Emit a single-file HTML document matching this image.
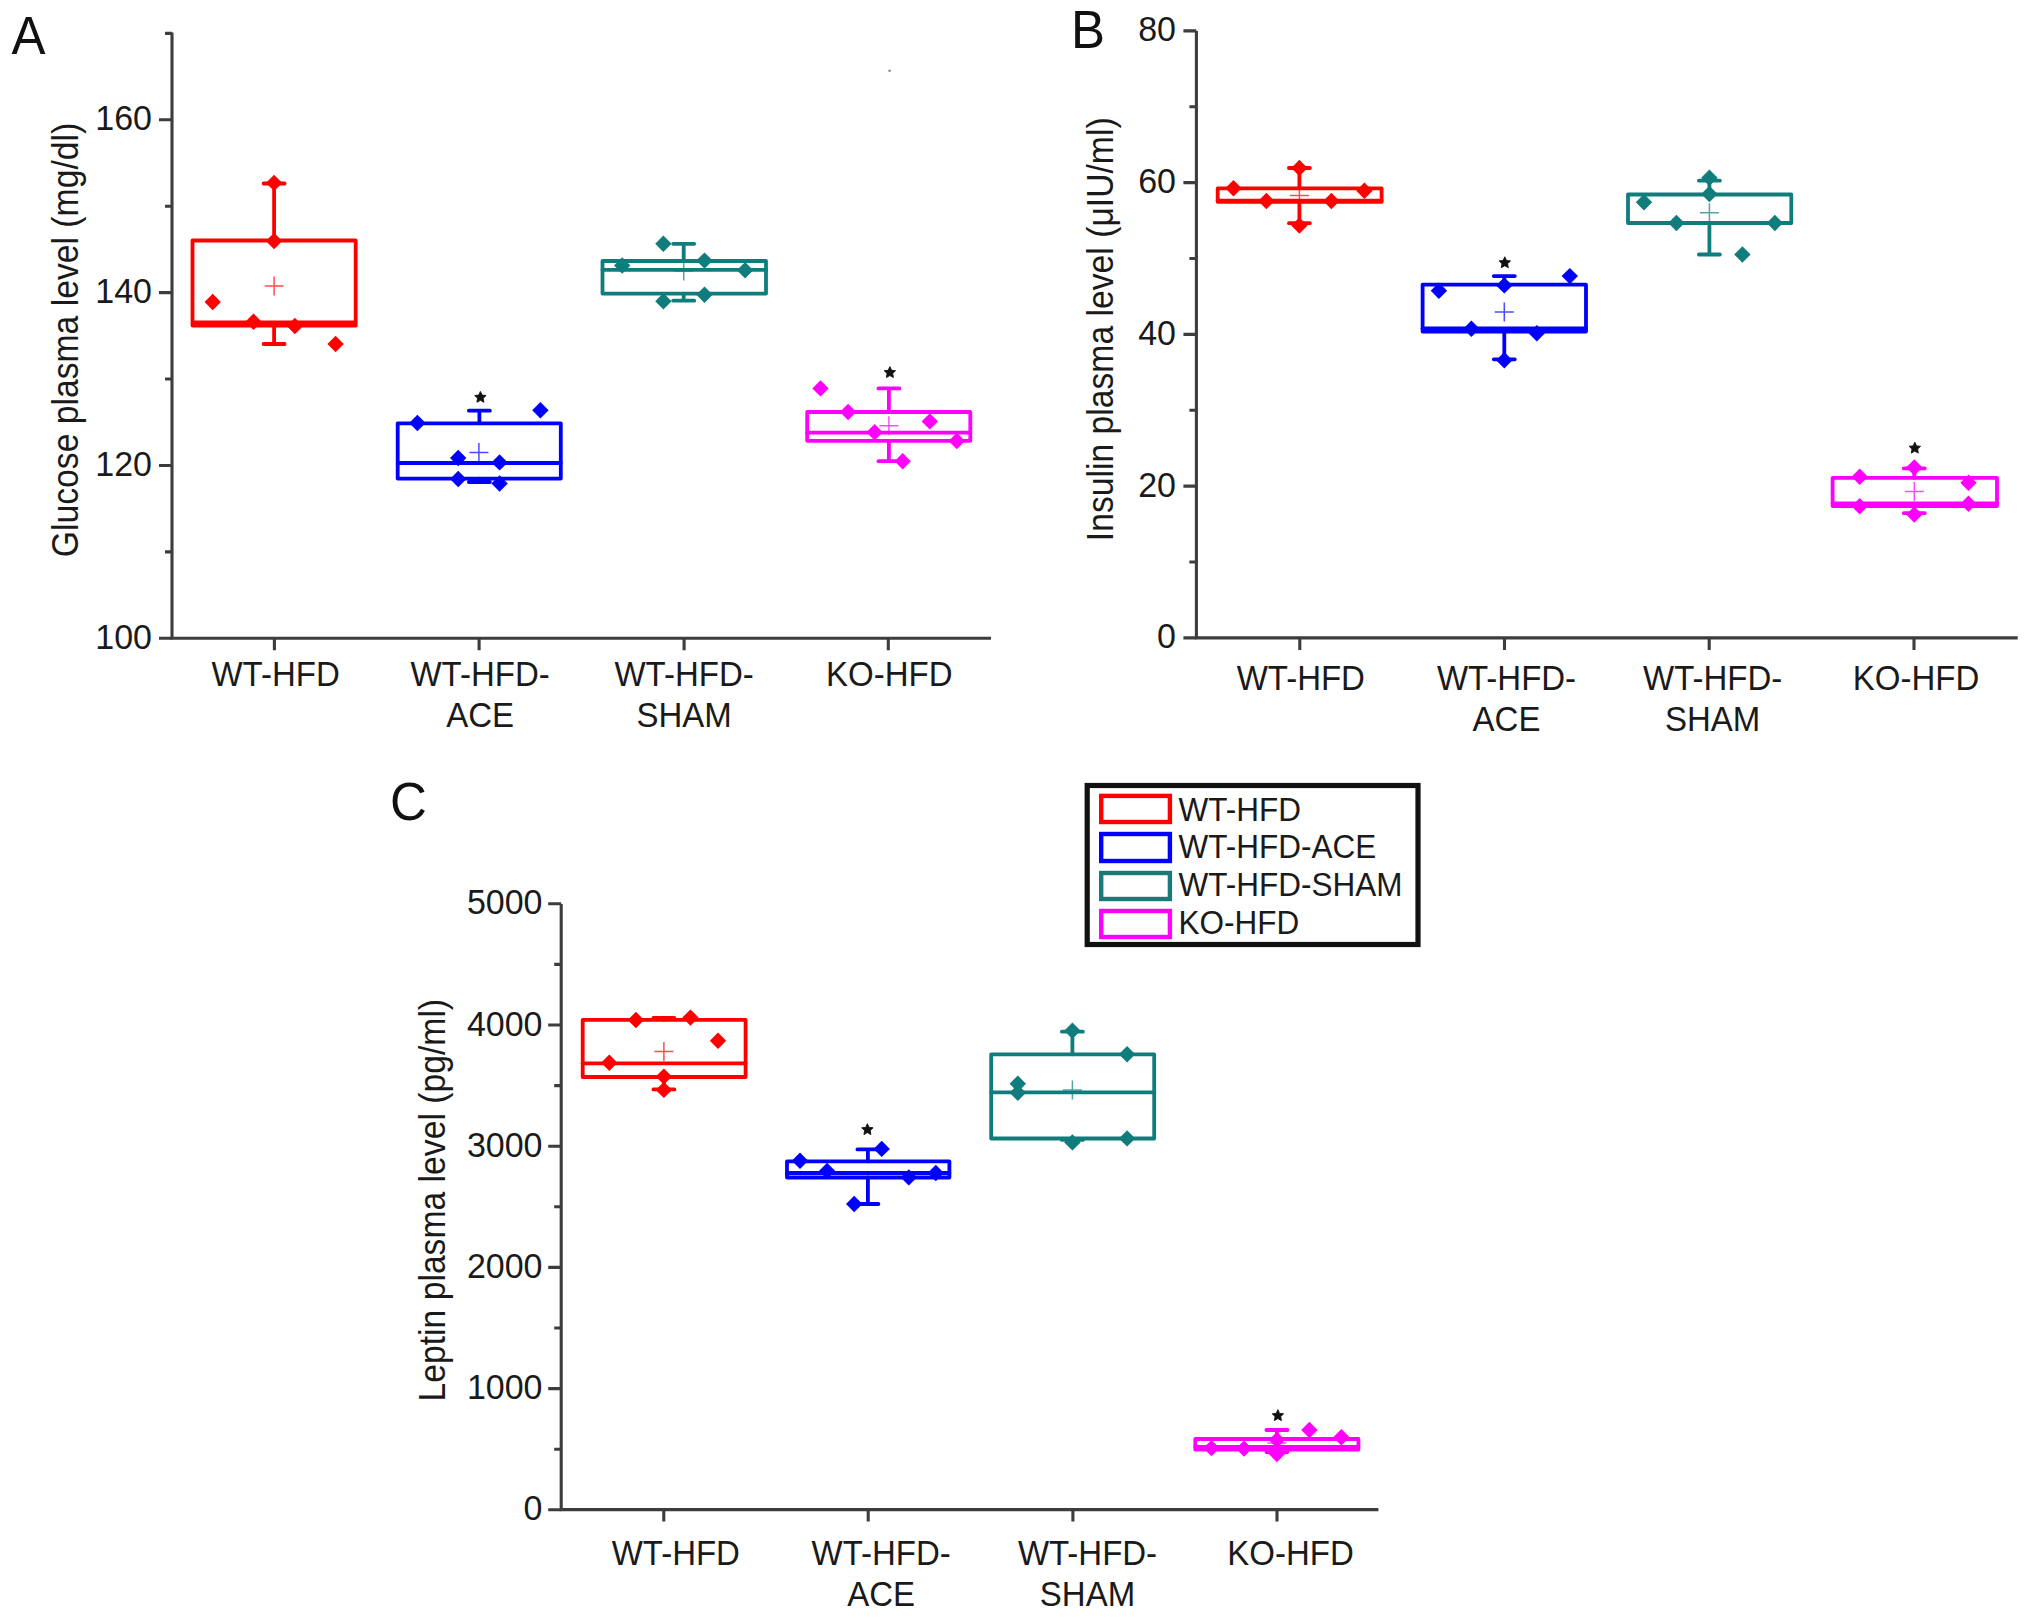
<!DOCTYPE html><html><head><meta charset="utf-8"><style>html,body{margin:0;padding:0;background:#fff;}svg{display:block;}</style></head><body><svg width="2032" height="1619" viewBox="0 0 2032 1619">
<rect width="2032" height="1619" fill="#fff"/>
<g stroke="#3d3d3d" stroke-width="3.1" fill="none">
<path d="M172.0 32.5V638.3H991.0"/>
<path d="M159.0 638.3H172.0M159.0 465.5H172.0M159.0 292.6H172.0M159.0 119.8H172.0M165.0 551.9H172.0M165.0 379.0H172.0M165.0 206.2H172.0M165.0 33.4H172.0M274.4 638.3V650.3M479.1 638.3V650.3M684.1 638.3V650.3M888.3 638.3V650.3"/>
</g>
<g font-family="Liberation Sans, sans-serif">
<text transform="translate(152.0 648.8) scale(1 1.04)" text-anchor="end" font-size="34" fill="#1a1a1a">100</text>
<text transform="translate(152.0 476.0) scale(1 1.04)" text-anchor="end" font-size="34" fill="#1a1a1a">120</text>
<text transform="translate(152.0 303.1) scale(1 1.04)" text-anchor="end" font-size="34" fill="#1a1a1a">140</text>
<text transform="translate(152.0 130.3) scale(1 1.04)" text-anchor="end" font-size="34" fill="#1a1a1a">160</text>
<text transform="translate(275.6 686.2) scale(1 1.09)" text-anchor="middle" font-size="33" fill="#1a1a1a">WT-HFD</text>
<text transform="translate(480.1 686.2) scale(1 1.09)" text-anchor="middle" font-size="33" fill="#1a1a1a">WT-HFD-</text>
<text transform="translate(480.1 726.9) scale(1 1.09)" text-anchor="middle" font-size="33" fill="#1a1a1a">ACE</text>
<text transform="translate(684.1 686.2) scale(1 1.09)" text-anchor="middle" font-size="33" fill="#1a1a1a">WT-HFD-</text>
<text transform="translate(684.1 726.9) scale(1 1.09)" text-anchor="middle" font-size="33" fill="#1a1a1a">SHAM</text>
<text transform="translate(889.3 686.2) scale(1 1.09)" text-anchor="middle" font-size="33" fill="#1a1a1a">KO-HFD</text>
<text transform="translate(78.4 340.0) rotate(-90) scale(1 1.08)" text-anchor="middle" font-size="33.7" fill="#1a1a1a">Glucose plasma level (mg/dl)</text>
<text transform="translate(11.5 53.7) scale(1 1.07)" text-anchor="start" font-size="51" fill="#111">A</text>
</g>
<g stroke="#3d3d3d" stroke-width="3.1" fill="none">
<path d="M1196.4 30.9V637.9H2017.7"/>
<path d="M1183.4 637.9H1196.4M1183.4 486.1H1196.4M1183.4 334.4H1196.4M1183.4 182.6H1196.4M1183.4 30.9H1196.4M1189.4 562.0H1196.4M1189.4 410.3H1196.4M1189.4 258.5H1196.4M1189.4 106.8H1196.4M1299.8 637.9V649.9M1504.5 637.9V649.9M1709.2 637.9V649.9M1914.0 637.9V649.9"/>
</g>
<g font-family="Liberation Sans, sans-serif">
<text transform="translate(1176.0 648.4) scale(1 1.04)" text-anchor="end" font-size="34" fill="#1a1a1a">0</text>
<text transform="translate(1176.0 496.6) scale(1 1.04)" text-anchor="end" font-size="34" fill="#1a1a1a">20</text>
<text transform="translate(1176.0 344.9) scale(1 1.04)" text-anchor="end" font-size="34" fill="#1a1a1a">40</text>
<text transform="translate(1176.0 193.1) scale(1 1.04)" text-anchor="end" font-size="34" fill="#1a1a1a">60</text>
<text transform="translate(1176.0 41.4) scale(1 1.04)" text-anchor="end" font-size="34" fill="#1a1a1a">80</text>
<text transform="translate(1300.8 690.2) scale(1 1.09)" text-anchor="middle" font-size="33" fill="#1a1a1a">WT-HFD</text>
<text transform="translate(1506.5 690.2) scale(1 1.09)" text-anchor="middle" font-size="33" fill="#1a1a1a">WT-HFD-</text>
<text transform="translate(1506.5 730.9) scale(1 1.09)" text-anchor="middle" font-size="33" fill="#1a1a1a">ACE</text>
<text transform="translate(1712.7 690.2) scale(1 1.09)" text-anchor="middle" font-size="33" fill="#1a1a1a">WT-HFD-</text>
<text transform="translate(1712.7 730.9) scale(1 1.09)" text-anchor="middle" font-size="33" fill="#1a1a1a">SHAM</text>
<text transform="translate(1916.0 690.2) scale(1 1.09)" text-anchor="middle" font-size="33" fill="#1a1a1a">KO-HFD</text>
<text transform="translate(1112.8 329.3) rotate(-90) scale(1 1.08)" text-anchor="middle" font-size="33.7" fill="#1a1a1a">Insulin plasma level (μIU/ml)</text>
<text transform="translate(1071.0 48.2) scale(1 1.07)" text-anchor="start" font-size="51" fill="#111">B</text>
</g>
<g stroke="#3d3d3d" stroke-width="3.1" fill="none">
<path d="M561.2 904.0V1509.6H1378.4"/>
<path d="M548.2 1509.8H561.2M548.2 1388.6H561.2M548.2 1267.4H561.2M548.2 1146.2H561.2M548.2 1025.0H561.2M548.2 903.8H561.2M554.2 1449.2H561.2M554.2 1328.0H561.2M554.2 1206.8H561.2M554.2 1085.6H561.2M554.2 964.4H561.2M663.8 1509.6V1521.6M868.2 1509.6V1521.6M1072.9 1509.6V1521.6M1277.0 1509.6V1521.6"/>
</g>
<g font-family="Liberation Sans, sans-serif">
<text transform="translate(542.5 1520.3) scale(1 1.04)" text-anchor="end" font-size="34" fill="#1a1a1a">0</text>
<text transform="translate(542.5 1399.1) scale(1 1.04)" text-anchor="end" font-size="34" fill="#1a1a1a">1000</text>
<text transform="translate(542.5 1277.9) scale(1 1.04)" text-anchor="end" font-size="34" fill="#1a1a1a">2000</text>
<text transform="translate(542.5 1156.7) scale(1 1.04)" text-anchor="end" font-size="34" fill="#1a1a1a">3000</text>
<text transform="translate(542.5 1035.5) scale(1 1.04)" text-anchor="end" font-size="34" fill="#1a1a1a">4000</text>
<text transform="translate(542.5 914.3) scale(1 1.04)" text-anchor="end" font-size="34" fill="#1a1a1a">5000</text>
<text transform="translate(675.8 1565.0) scale(1 1.09)" text-anchor="middle" font-size="33" fill="#1a1a1a">WT-HFD</text>
<text transform="translate(881.2 1565.0) scale(1 1.09)" text-anchor="middle" font-size="33" fill="#1a1a1a">WT-HFD-</text>
<text transform="translate(881.2 1605.7) scale(1 1.09)" text-anchor="middle" font-size="33" fill="#1a1a1a">ACE</text>
<text transform="translate(1087.5 1565.0) scale(1 1.09)" text-anchor="middle" font-size="33" fill="#1a1a1a">WT-HFD-</text>
<text transform="translate(1087.5 1605.7) scale(1 1.09)" text-anchor="middle" font-size="33" fill="#1a1a1a">SHAM</text>
<text transform="translate(1290.5 1565.0) scale(1 1.09)" text-anchor="middle" font-size="33" fill="#1a1a1a">KO-HFD</text>
<text transform="translate(445.0 1200.2) rotate(-90) scale(1 1.08)" text-anchor="middle" font-size="33.7" fill="#1a1a1a">Leptin plasma level (pg/ml)</text>
<text transform="translate(390.0 819.5) scale(1 1.07)" text-anchor="start" font-size="51" fill="#111">C</text>
</g>
<g stroke="#ff0000" fill="none" stroke-width="3.8" stroke-linecap="round" stroke-linejoin="round">
<path d="M274.1 183.5V240.5M274.1 325.6V344.0M263.6 183.5H284.6M263.6 344.0H284.6"/>
<rect x="192.5" y="240.5" width="163.2" height="85.1"/>
<path d="M264.6 286.0H283.6M274.1 276.5V295.5" stroke-width="1.5" stroke-linecap="butt" opacity="0.7"/>
</g>
<path d="M212.7 293.8L220.9 302.0L212.7 310.2L204.5 302.0Z" fill="#ff0000"/>
<path d="M335.6 335.8L343.8 344.0L335.6 352.2L327.4 344.0Z" fill="#ff0000"/>
<path d="M253.5 313.6L261.7 321.8L253.5 330.0L245.3 321.8Z" fill="#ff0000"/>
<path d="M294.9 317.8L303.1 326.0L294.9 334.2L286.7 326.0Z" fill="#ff0000"/>
<path d="M274.1 232.8L282.3 241.0L274.1 249.2L265.9 241.0Z" fill="#ff0000"/>
<path d="M274.1 174.7L282.3 182.9L274.1 191.1L265.9 182.9Z" fill="#ff0000"/>
<path d="M192.5 322.3H355.7" stroke="#ff0000" stroke-width="3.8"/>
<g stroke="#0000ff" fill="none" stroke-width="3.8" stroke-linecap="round" stroke-linejoin="round">
<path d="M479.4 410.7V423.3M479.4 478.6V482.0M468.9 410.7H489.9M468.9 482.0H489.9"/>
<rect x="397.7" y="423.3" width="163.1" height="55.3"/>
<path d="M397.7 463.0H560.8"/>
<path d="M469.4 452.5H488.4M478.9 443.0V462.0" stroke-width="1.5" stroke-linecap="butt" opacity="0.7"/>
</g>
<path d="M417.4 414.8L425.6 423.0L417.4 431.2L409.2 423.0Z" fill="#0000ff"/>
<path d="M540.4 402.0L548.6 410.2L540.4 418.4L532.2 410.2Z" fill="#0000ff"/>
<path d="M458.2 449.8L466.4 458.0L458.2 466.2L450.0 458.0Z" fill="#0000ff"/>
<path d="M499.6 454.2L507.8 462.4L499.6 470.6L491.4 462.4Z" fill="#0000ff"/>
<path d="M458.2 470.8L466.4 479.0L458.2 487.2L450.0 479.0Z" fill="#0000ff"/>
<path d="M499.6 475.3L507.8 483.5L499.6 491.7L491.4 483.5Z" fill="#0000ff"/>
<polygon points="480.4,391.4 482.1,395.1 486.1,395.5 483.2,398.3 483.9,402.3 480.4,400.3 476.9,402.3 477.6,398.3 474.7,395.5 478.7,395.1" fill="#111" stroke="#111" stroke-width="0.9" stroke-linejoin="round"/>
<g stroke="#107c7c" fill="none" stroke-width="3.8" stroke-linecap="round" stroke-linejoin="round">
<path d="M683.7 243.8V261.0M683.7 293.6V300.7M673.2 243.8H694.2M673.2 300.7H694.2"/>
<rect x="602.5" y="261.0" width="163.5" height="32.6"/>
<path d="M602.5 269.8H766.0"/>
<path d="M674.2 270.9H693.2M683.7 261.4V280.4" stroke-width="1.5" stroke-linecap="butt" opacity="0.7"/>
</g>
<path d="M663.4 235.6L671.6 243.8L663.4 252.0L655.2 243.8Z" fill="#107c7c"/>
<path d="M704.5 252.4L712.7 260.6L704.5 268.8L696.3 260.6Z" fill="#107c7c"/>
<path d="M622.2 257.3L630.4 265.5L622.2 273.7L614.0 265.5Z" fill="#107c7c"/>
<path d="M745.1 262.1L753.3 270.3L745.1 278.5L736.9 270.3Z" fill="#107c7c"/>
<path d="M704.5 286.5L712.7 294.7L704.5 302.9L696.3 294.7Z" fill="#107c7c"/>
<path d="M663.4 293.0L671.6 301.2L663.4 309.4L655.2 301.2Z" fill="#107c7c"/>
<g stroke="#ff00ff" fill="none" stroke-width="3.8" stroke-linecap="round" stroke-linejoin="round">
<path d="M888.9 388.4V412.0M888.9 440.8V461.2M878.4 388.4H899.4M878.4 461.2H899.4"/>
<rect x="807.2" y="412.0" width="163.1" height="28.8"/>
<path d="M807.2 432.7H970.3"/>
<path d="M879.4 425.8H898.4M888.9 416.3V435.3" stroke-width="1.5" stroke-linecap="butt" opacity="0.7"/>
</g>
<path d="M820.5 380.2L828.7 388.4L820.5 396.6L812.3 388.4Z" fill="#ff00ff"/>
<path d="M848.1 403.8L856.3 412.0L848.1 420.2L839.9 412.0Z" fill="#ff00ff"/>
<path d="M929.8 413.2L938.0 421.4L929.8 429.6L921.6 421.4Z" fill="#ff00ff"/>
<path d="M874.6 424.0L882.8 432.2L874.6 440.4L866.4 432.2Z" fill="#ff00ff"/>
<path d="M956.8 432.8L965.0 441.0L956.8 449.2L948.6 441.0Z" fill="#ff00ff"/>
<path d="M902.7 453.0L910.9 461.2L902.7 469.4L894.5 461.2Z" fill="#ff00ff"/>
<polygon points="889.9,366.6 891.6,370.3 895.6,370.7 892.7,373.5 893.4,377.5 889.9,375.5 886.4,377.5 887.1,373.5 884.2,370.7 888.2,370.3" fill="#111" stroke="#111" stroke-width="0.9" stroke-linejoin="round"/>
<g stroke="#ff0000" fill="none" stroke-width="3.8" stroke-linecap="round" stroke-linejoin="round">
<path d="M1299.4 168.0V188.4M1299.4 201.8V223.2M1288.9 168.0H1309.9M1288.9 223.2H1309.9"/>
<rect x="1217.7" y="188.4" width="163.9" height="13.4"/>
<path d="M1217.7 200.6H1381.6"/>
<path d="M1289.9 195.6H1308.9M1299.4 186.1V205.1" stroke-width="1.5" stroke-linecap="butt" opacity="0.7"/>
</g>
<path d="M1299.4 159.8L1307.6 168.0L1299.4 176.2L1291.2 168.0Z" fill="#ff0000"/>
<path d="M1299.4 217.4L1307.6 225.6L1299.4 233.8L1291.2 225.6Z" fill="#ff0000"/>
<path d="M1233.5 180.0L1241.7 188.2L1233.5 196.4L1225.3 188.2Z" fill="#ff0000"/>
<path d="M1266.4 192.8L1274.6 201.0L1266.4 209.2L1258.2 201.0Z" fill="#ff0000"/>
<path d="M1331.4 192.8L1339.6 201.0L1331.4 209.2L1323.2 201.0Z" fill="#ff0000"/>
<path d="M1364.4 182.5L1372.6 190.7L1364.4 198.9L1356.2 190.7Z" fill="#ff0000"/>
<g stroke="#0000ff" fill="none" stroke-width="3.8" stroke-linecap="round" stroke-linejoin="round">
<path d="M1504.3 276.1V284.7M1504.3 331.5V359.3M1493.8 276.1H1514.8M1493.8 359.3H1514.8"/>
<rect x="1422.6" y="284.7" width="163.4" height="46.8"/>
<path d="M1422.6 328.5H1586.0"/>
<path d="M1494.8 312.0H1513.8M1504.3 302.5V321.5" stroke-width="1.5" stroke-linecap="butt" opacity="0.7"/>
</g>
<path d="M1438.9 282.6L1447.1 290.8L1438.9 299.0L1430.7 290.8Z" fill="#0000ff"/>
<path d="M1504.3 277.2L1512.5 285.4L1504.3 293.6L1496.1 285.4Z" fill="#0000ff"/>
<path d="M1569.8 267.9L1578.0 276.1L1569.8 284.3L1561.6 276.1Z" fill="#0000ff"/>
<path d="M1471.4 320.5L1479.6 328.7L1471.4 336.9L1463.2 328.7Z" fill="#0000ff"/>
<path d="M1536.8 325.0L1545.0 333.2L1536.8 341.4L1528.6 333.2Z" fill="#0000ff"/>
<path d="M1504.3 352.0L1512.5 360.2L1504.3 368.4L1496.1 360.2Z" fill="#0000ff"/>
<polygon points="1504.8,256.8 1506.5,260.5 1510.5,260.9 1507.6,263.7 1508.3,267.7 1504.8,265.7 1501.3,267.7 1502.0,263.7 1499.1,260.9 1503.1,260.5" fill="#111" stroke="#111" stroke-width="0.9" stroke-linejoin="round"/>
<g stroke="#107c7c" fill="none" stroke-width="3.8" stroke-linecap="round" stroke-linejoin="round">
<path d="M1709.4 180.7V194.5M1709.4 223.0V254.5M1698.9 180.7H1719.9M1698.9 254.5H1719.9"/>
<rect x="1628.0" y="194.5" width="163.3" height="28.5"/>
<path d="M1699.9 212.7H1718.9M1709.4 203.2V222.2" stroke-width="1.5" stroke-linecap="butt" opacity="0.7"/>
</g>
<path d="M1709.4 169.5L1717.6 177.7L1709.4 185.9L1701.2 177.7Z" fill="#107c7c"/>
<path d="M1709.4 185.8L1717.6 194.0L1709.4 202.2L1701.2 194.0Z" fill="#107c7c"/>
<path d="M1644.0 194.1L1652.2 202.3L1644.0 210.5L1635.8 202.3Z" fill="#107c7c"/>
<path d="M1676.4 214.8L1684.6 223.0L1676.4 231.2L1668.2 223.0Z" fill="#107c7c"/>
<path d="M1774.9 214.8L1783.1 223.0L1774.9 231.2L1766.7 223.0Z" fill="#107c7c"/>
<path d="M1742.4 246.3L1750.6 254.5L1742.4 262.7L1734.2 254.5Z" fill="#107c7c"/>
<g stroke="#ff00ff" fill="none" stroke-width="3.8" stroke-linecap="round" stroke-linejoin="round">
<path d="M1914.3 468.4V477.8M1914.3 506.0V513.2M1903.8 468.4H1924.8M1903.8 513.2H1924.8"/>
<rect x="1832.6" y="477.8" width="164.4" height="28.2"/>
<path d="M1832.6 503.5H1997.0"/>
<path d="M1904.8 491.5H1923.8M1914.3 482.0V501.0" stroke-width="1.5" stroke-linecap="butt" opacity="0.7"/>
</g>
<path d="M1914.3 459.2L1922.5 467.4L1914.3 475.6L1906.1 467.4Z" fill="#ff00ff"/>
<path d="M1914.3 506.4L1922.5 514.6L1914.3 522.8L1906.1 514.6Z" fill="#ff00ff"/>
<path d="M1859.7 468.6L1867.9 476.8L1859.7 485.0L1851.5 476.8Z" fill="#ff00ff"/>
<path d="M1859.7 498.1L1867.9 506.3L1859.7 514.5L1851.5 506.3Z" fill="#ff00ff"/>
<path d="M1968.5 474.5L1976.7 482.7L1968.5 490.9L1960.3 482.7Z" fill="#ff00ff"/>
<path d="M1968.5 495.6L1976.7 503.8L1968.5 512.0L1960.3 503.8Z" fill="#ff00ff"/>
<polygon points="1914.8,442.2 1916.5,445.9 1920.5,446.3 1917.6,449.1 1918.3,453.1 1914.8,451.1 1911.3,453.1 1912.0,449.1 1909.1,446.3 1913.1,445.9" fill="#111" stroke="#111" stroke-width="0.9" stroke-linejoin="round"/>
<g stroke="#ff0000" fill="none" stroke-width="3.8" stroke-linecap="round" stroke-linejoin="round">
<path d="M663.9 1018.0V1019.8M663.9 1077.0V1089.4M653.4 1018.0H674.4M653.4 1089.4H674.4"/>
<rect x="582.7" y="1019.8" width="162.9" height="57.2"/>
<path d="M582.7 1063.3H745.6"/>
<path d="M654.4 1051.5H673.4M663.9 1042.0V1061.0" stroke-width="1.5" stroke-linecap="butt" opacity="0.7"/>
</g>
<path d="M635.9 1011.8L644.1 1020.0L635.9 1028.2L627.7 1020.0Z" fill="#ff0000"/>
<path d="M690.5 1009.4L698.7 1017.6L690.5 1025.8L682.3 1017.6Z" fill="#ff0000"/>
<path d="M718.0 1032.5L726.2 1040.7L718.0 1048.9L709.8 1040.7Z" fill="#ff0000"/>
<path d="M609.3 1054.6L617.5 1062.8L609.3 1071.0L601.1 1062.8Z" fill="#ff0000"/>
<path d="M663.9 1068.4L672.1 1076.6L663.9 1084.8L655.7 1076.6Z" fill="#ff0000"/>
<path d="M663.9 1081.7L672.1 1089.9L663.9 1098.1L655.7 1089.9Z" fill="#ff0000"/>
<g stroke="#0000ff" fill="none" stroke-width="3.8" stroke-linecap="round" stroke-linejoin="round">
<path d="M867.9 1149.4V1161.4M867.9 1177.5V1204.0M857.4 1149.4H878.4M857.4 1204.0H878.4"/>
<rect x="787.0" y="1161.4" width="162.4" height="16.1"/>
<path d="M787.0 1173.0H949.4"/>
</g>
<path d="M800.0 1152.5L808.2 1160.7L800.0 1168.9L791.8 1160.7Z" fill="#0000ff"/>
<path d="M881.7 1140.7L889.9 1148.9L881.7 1157.1L873.5 1148.9Z" fill="#0000ff"/>
<path d="M827.1 1162.8L835.3 1171.0L827.1 1179.2L818.9 1171.0Z" fill="#0000ff"/>
<path d="M908.8 1169.2L917.0 1177.4L908.8 1185.6L900.6 1177.4Z" fill="#0000ff"/>
<path d="M935.8 1164.8L944.0 1173.0L935.8 1181.2L927.6 1173.0Z" fill="#0000ff"/>
<path d="M854.2 1195.8L862.4 1204.0L854.2 1212.2L846.0 1204.0Z" fill="#0000ff"/>
<polygon points="867.4,1123.7 869.1,1127.4 873.1,1127.8 870.2,1130.6 870.9,1134.6 867.4,1132.6 863.9,1134.6 864.6,1130.6 861.7,1127.8 865.7,1127.4" fill="#111" stroke="#111" stroke-width="0.9" stroke-linejoin="round"/>
<g stroke="#107c7c" fill="none" stroke-width="3.8" stroke-linecap="round" stroke-linejoin="round">
<path d="M1072.4 1031.7V1054.3M1072.4 1138.5V1139.9M1061.9 1031.7H1082.9M1061.9 1139.9H1082.9"/>
<rect x="991.2" y="1054.3" width="163.0" height="84.2"/>
<path d="M991.2 1092.4H1154.2"/>
<path d="M1062.9 1090.0H1081.9M1072.4 1080.5V1099.5" stroke-width="1.5" stroke-linecap="butt" opacity="0.7"/>
</g>
<path d="M1072.4 1022.5L1080.6 1030.7L1072.4 1038.9L1064.2 1030.7Z" fill="#107c7c"/>
<path d="M1127.1 1046.1L1135.3 1054.3L1127.1 1062.5L1118.9 1054.3Z" fill="#107c7c"/>
<path d="M1017.8 1075.6L1026.0 1083.8L1017.8 1092.0L1009.6 1083.8Z" fill="#107c7c"/>
<path d="M1017.8 1084.5L1026.0 1092.7L1017.8 1100.9L1009.6 1092.7Z" fill="#107c7c"/>
<path d="M1072.4 1134.2L1080.6 1142.4L1072.4 1150.6L1064.2 1142.4Z" fill="#107c7c"/>
<path d="M1127.1 1130.2L1135.3 1138.4L1127.1 1146.6L1118.9 1138.4Z" fill="#107c7c"/>
<g stroke="#ff00ff" fill="none" stroke-width="3.8" stroke-linecap="round" stroke-linejoin="round">
<path d="M1276.9 1430.0V1439.0M1276.9 1449.5V1452.0M1266.4 1430.0H1287.4M1266.4 1452.0H1287.4"/>
<rect x="1195.3" y="1439.0" width="163.1" height="10.5"/>
<path d="M1195.3 1447.0H1358.4"/>
<path d="M1267.4 1443.0H1286.4M1276.9 1433.5V1452.5" stroke-width="1.5" stroke-linecap="butt" opacity="0.7"/>
</g>
<path d="M1309.4 1421.8L1317.6 1430.0L1309.4 1438.2L1301.2 1430.0Z" fill="#ff00ff"/>
<path d="M1341.4 1429.1L1349.6 1437.3L1341.4 1445.5L1333.2 1437.3Z" fill="#ff00ff"/>
<path d="M1211.5 1439.9L1219.7 1448.1L1211.5 1456.3L1203.3 1448.1Z" fill="#ff00ff"/>
<path d="M1244.0 1440.4L1252.2 1448.6L1244.0 1456.8L1235.8 1448.6Z" fill="#ff00ff"/>
<path d="M1276.9 1445.8L1285.1 1454.0L1276.9 1462.2L1268.7 1454.0Z" fill="#ff00ff"/>
<path d="M1276.9 1431.8L1285.1 1440.0L1276.9 1448.2L1268.7 1440.0Z" fill="#ff00ff"/>
<polygon points="1277.9,1409.7 1279.6,1413.4 1283.6,1413.8 1280.7,1416.6 1281.4,1420.6 1277.9,1418.6 1274.4,1420.6 1275.1,1416.6 1272.2,1413.8 1276.2,1413.4" fill="#111" stroke="#111" stroke-width="0.9" stroke-linejoin="round"/>
<rect x="1087.2" y="785.5" width="330.8" height="159" fill="none" stroke="#111" stroke-width="5.2"/>
<rect x="1101.2" y="795.9" width="68.7" height="26.1" fill="none" stroke="#ff0000" stroke-width="4.4"/>
<g font-family="Liberation Sans, sans-serif"><text transform="translate(1178.5 821.4) scale(1 1.07)" text-anchor="start" font-size="31.5" fill="#1a1a1a">WT-HFD</text></g>
<rect x="1101.2" y="834" width="68.7" height="27.0" fill="none" stroke="#0000ff" stroke-width="4.4"/>
<g font-family="Liberation Sans, sans-serif"><text transform="translate(1178.5 857.7) scale(1 1.07)" text-anchor="start" font-size="31.5" fill="#1a1a1a">WT-HFD-ACE</text></g>
<rect x="1101.2" y="873" width="68.7" height="26.0" fill="none" stroke="#1a7a7a" stroke-width="4.4"/>
<g font-family="Liberation Sans, sans-serif"><text transform="translate(1178.5 895.8) scale(1 1.07)" text-anchor="start" font-size="31.5" fill="#1a1a1a">WT-HFD-SHAM</text></g>
<rect x="1101.2" y="911" width="68.7" height="26.0" fill="none" stroke="#ff00ff" stroke-width="4.4"/>
<g font-family="Liberation Sans, sans-serif"><text transform="translate(1178.5 933.9) scale(1 1.07)" text-anchor="start" font-size="31.5" fill="#1a1a1a">KO-HFD</text></g>
<circle cx="889.6" cy="70.7" r="1.3" fill="#888"/>
</svg></body></html>
